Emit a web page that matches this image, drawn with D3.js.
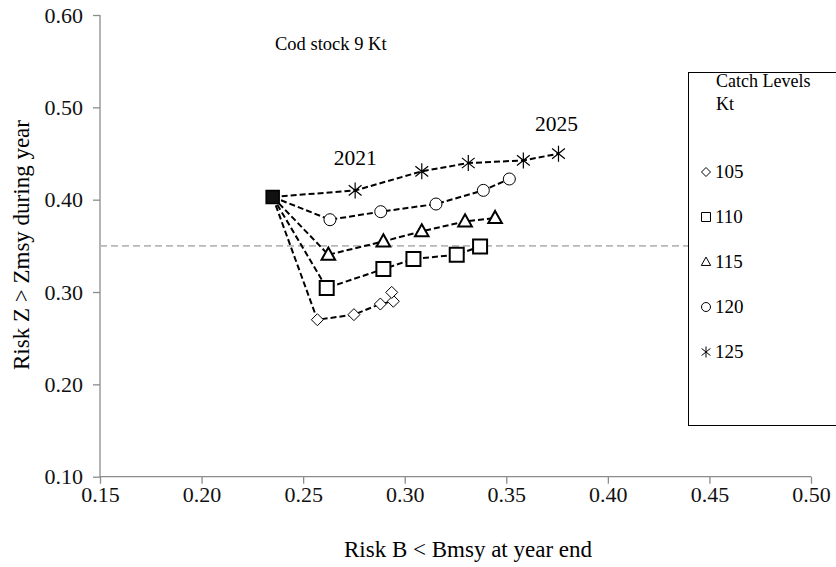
<!DOCTYPE html>
<html>
<head>
<meta charset="utf-8">
<script src="https://cdn.jsdelivr.net/npm/d3@7"></script>
<style>
  html, body { margin: 0; padding: 0; background: #fff; }
  svg { display: block; font-family: "Liberation Serif", "Times New Roman", serif; }
</style>
</head>
<body>
<svg id="chart" width="836" height="567"></svg>
<script>
// Catch level scenarios (Kt) and the common starting point
const catchLevels = [105, 110, 115, 120, 125];
const startRiskB = 0.235;
const startRiskZ = 0.403;

// Risk B < Bmsy (x) and Risk Z > Zmsy (y), years 2021..2025
const riskB105 = [0.257, 0.275, 0.288, 0.2944, 0.2936];
const riskZ105 = [0.270, 0.2755, 0.287, 0.290, 0.2996];
const riskB110 = [0.2616, 0.2895, 0.3043, 0.3256, 0.3371];
const riskZ110 = [0.3043, 0.3249, 0.3357, 0.3404, 0.3494];
const riskB115 = [0.2624, 0.2895, 0.3084, 0.3297, 0.3445];
const riskZ115 = [0.3404, 0.3548, 0.3657, 0.3765, 0.3801];
const riskB120 = [0.2632, 0.2882, 0.3154, 0.3387, 0.3515];
const riskZ120 = [0.3783, 0.387, 0.3953, 0.4101, 0.4224];
const riskB125 = [0.2756, 0.3084, 0.3313, 0.3584, 0.3757];
const riskZ125 = [0.410, 0.4307, 0.4397, 0.4425, 0.4498];

const xTicks = [0.15, 0.20, 0.25, 0.30, 0.35, 0.40, 0.45, 0.50];
const yTicks = [0.10, 0.20, 0.30, 0.40, 0.50, 0.60];
const referenceZ = 0.35;

const seriesB = [riskB105, riskB110, riskB115, riskB120, riskB125];
const seriesZ = [riskZ105, riskZ110, riskZ115, riskZ120, riskZ125];
const markerKinds = ["diamond", "square", "triangle", "circle", "star"];

const svg = d3.select("#chart");
const plotLeft = 100, plotRight = 811, plotTop = 15, plotBottom = 476.7;

const x = d3.scaleLinear().domain([0.15, 0.50]).range([plotLeft, plotRight]);
const y = d3.scaleLinear().domain([0.10, 0.60]).range([plotBottom, plotTop]);

// marker shapes; s = nominal size
function markerPath(kind, s) {
  const h = s / 2;
  switch (kind) {
    case "diamond": return `M0,${-h}L${h},0L0,${h}L${-h},0Z`;
    case "square": return `M${-h},${-h}H${h}V${h}H${-h}Z`;
    case "triangle": {
      const r = h * 1.1;
      return `M0,${-r}L${r * 0.95},${r * 0.7}L${-r * 0.95},${r * 0.7}Z`;
    }
    case "circle": return d3.arc()({innerRadius: 0, outerRadius: h, startAngle: 0, endAngle: 2 * Math.PI});
    case "star": {
      const a = h * 0.8;
      return `M0,${-h}L0,${h}M${-a},${-a * 0.8}L${a},${a * 0.8}M${-a},${a * 0.8}L${a},${-a * 0.8}`;
    }
  }
}
const markerSize = {diamond: 12, square: 14, triangle: 13, circle: 12, star: 16};
const markerStroke = {diamond: 1, square: 2, triangle: 2, circle: 1, star: 1.2};

// Axes
const axisColor = "#8c8c8c";
const yAxis = svg.append("g").attr("transform", `translate(${plotLeft},0)`)
  .call(d3.axisLeft(y).tickValues(yTicks).tickFormat(d3.format(".2f")).tickSize(7).tickSizeOuter(0));
const xAxis = svg.append("g").attr("transform", `translate(0,${plotBottom})`)
  .call(d3.axisBottom(x).tickValues(xTicks).tickFormat(d3.format(".2f")).tickSize(7).tickSizeOuter(0));
[xAxis, yAxis].forEach(g => {
  g.select(".domain").attr("stroke", axisColor).attr("stroke-width", 1.3);
  g.selectAll(".tick line").attr("stroke", axisColor).attr("stroke-width", 1.3);
  g.selectAll(".tick text").attr("fill", "#111").attr("font-size", 22)
    .attr("font-family", "Liberation Serif, Times New Roman, serif");
});
yAxis.selectAll(".tick text").attr("x", -17);
xAxis.selectAll(".tick text").attr("y", 10);
yAxis.select(".domain").attr("d", `M0,${plotTop}V${plotBottom}`);
xAxis.select(".domain").attr("d", `M${plotLeft},0H${plotRight}`);

// Reference risk line
svg.append("line")
  .attr("x1", plotLeft).attr("x2", 836)
  .attr("y1", y(referenceZ)).attr("y2", y(referenceZ))
  .attr("stroke", "#b8b8b8").attr("stroke-width", 1.6)
  .attr("stroke-dasharray", "7,4");

// Trajectories
const line = d3.line().x(d => x(d[0])).y(d => y(d[1]));
seriesB.forEach((bs, i) => {
  const pts = [[startRiskB, startRiskZ]].concat(bs.map((b, j) => [b, seriesZ[i][j]]));
  svg.append("path").attr("d", line(pts))
    .attr("fill", "none").attr("stroke", "#000").attr("stroke-width", 2)
    .attr("stroke-dasharray", "6,3");
});
seriesB.forEach((bs, i) => {
  const kind = markerKinds[i];
  svg.append("g").selectAll("path").data(bs.map((b, j) => [b, seriesZ[i][j]])).join("path")
    .attr("transform", d => `translate(${x(d[0])},${y(d[1])})`)
    .attr("d", markerPath(kind, markerSize[kind]))
    .attr("fill", kind === "star" ? "none" : "#fff")
    .attr("stroke", "#000").attr("stroke-width", markerStroke[kind]);
});
// common starting point
svg.append("path")
  .attr("transform", `translate(${x(startRiskB)},${y(startRiskZ)})`)
  .attr("d", markerPath("square", 13))
  .attr("fill", "#111").attr("stroke", "#000").attr("stroke-width", 1.5);

// Annotations
svg.append("text").attr("x", 275).attr("y", 50).attr("font-size", 18.5).text("Cod stock 9 Kt");
svg.append("text").attr("x", x(riskB125[0])).attr("y", 165).attr("text-anchor", "middle").attr("font-size", 21.5).text("2021");
svg.append("text").attr("x", x(riskB125[4]) - 2).attr("y", 131).attr("text-anchor", "middle").attr("font-size", 21.5).text("2025");

// Axis titles
svg.append("text").attr("x", 468).attr("y", 557).attr("text-anchor", "middle").attr("font-size", 23)
  .text("Risk B < Bmsy at year end");
svg.append("text").attr("transform", "translate(29,245) rotate(-90)").attr("text-anchor", "middle").attr("font-size", 23)
  .text("Risk Z > Zmsy during year");

// Legend
const lg = svg.append("g");
lg.append("rect").attr("x", 688.5).attr("y", 72.5).attr("width", 160).attr("height", 353)
  .attr("fill", "#fff").attr("stroke", "#000").attr("stroke-width", 1);
lg.append("text").attr("x", 716).attr("y", 87).attr("font-size", 18).text("Catch Levels");
lg.append("text").attr("x", 716).attr("y", 110).attr("font-size", 18).text("Kt");
catchLevels.forEach((c, i) => {
  const cy = 172 + i * 45;
  const kind = markerKinds[i];
  lg.append("path").attr("transform", `translate(706,${cy})`)
    .attr("d", markerPath(kind, kind === "star" ? 11 : 9))
    .attr("fill", "none").attr("stroke", "#000").attr("stroke-width", 1);
  lg.append("text").attr("x", 715).attr("y", cy + 6).attr("font-size", 19).text(c);
});
</script>
</body>
</html>
